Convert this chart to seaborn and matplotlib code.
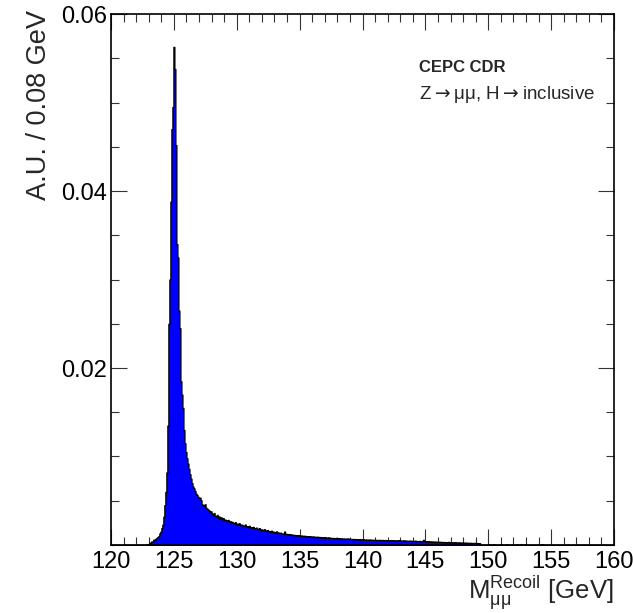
import numpy as np
import pandas as pd
import matplotlib
matplotlib.use("Agg")
import matplotlib.pyplot as plt
from matplotlib.ticker import FixedLocator, MultipleLocator, FixedFormatter
import seaborn as sns

# ---------------- data (bin contents in units of 1e-5, bin width 0.08 GeV) ----------------
x_min, x_max, bin_width = 120.0, 160.0, 0.08
first_filled_bin = 36          # bin starting at 122.88 GeV

# bins 36..99  (122.88 - 128.00 GeV): rising edge, peak and near tail
peak_values = [
    10, 10, 20, 30, 40, 40, 60, 55, 70, 80,
    90, 100, 130, 150, 190, 230, 320, 450, 600, 820,
    1350, 2500, 3000, 3880, 4700, 4950, 5630, 5380, 4520, 3400,
    3250, 2650, 2450, 1850, 1700, 1550, 1300, 1150, 1050, 980,
    920, 860, 800, 750, 700, 660, 640, 610, 580, 565,
    545, 525, 535, 505, 460, 450, 440, 460, 420, 410,
    400, 390, 370, 380,
]

# bins 100..366  (128.00 - 149.36 GeV): radiative tail
tail_values = [
    352, 338, 361, 327, 318, 340, 305, 322, 296, 312,
    290, 303, 281, 287, 279, 268, 283, 262, 270, 251,
    262, 247, 243, 258, 236, 241, 229, 245, 223, 231,
    226, 214, 219, 231, 207, 212, 203, 216, 198, 201,
    193, 204, 187, 190, 196, 178, 183, 190, 172, 176,
    171, 166, 178, 160, 163, 169, 154, 158, 149, 161,
    146, 151, 140, 144, 153, 137, 141, 133, 139, 130,
    128, 125, 152, 121, 126, 118, 123, 115, 120, 113,
    117, 110, 114, 108, 112, 104, 109, 106, 101, 107,
    103, 98, 105, 96, 100, 94, 99, 92, 97, 95,
    91, 96, 89, 93, 87, 94, 86, 90, 84, 88,
    85, 82, 88, 80, 84, 79, 86, 78, 81, 77,
    80, 76, 74, 79, 72, 77, 75, 71, 74, 70,
    73, 69, 72, 68, 71, 74, 66, 70, 67, 65,
    69, 64, 67, 63, 66, 62, 65, 61, 64, 60,
    63, 59, 62, 58, 61, 60, 57, 62, 56, 59,
    58, 55, 60, 54, 57, 53, 58, 56, 52, 57,
    55, 51, 56, 53, 50, 54, 52, 49, 55, 51,
    53, 48, 52, 50, 47, 54, 49, 51, 46, 50,
    48, 52, 45, 49, 47, 44, 50, 46, 48, 43,
    47, 44, 49, 42, 45, 43, 46, 41, 44, 40,
    58, 42, 39, 43, 38, 41, 37, 40, 36, 39,
    37, 35, 38, 34, 36, 33, 37, 32, 35, 31,
    34, 30, 33, 29, 32, 35, 28, 31, 27, 30,
    29, 27, 30, 26, 28, 25, 29, 24, 27, 25,
    26, 23, 27, 22, 25, 24, 21, 25, 22, 23,
    21, 24, 20, 22, 19, 21, 18,
]

# a few isolated tiny bins beyond the end of the tail: (bin index, content)
sparse_bins = [376, 380, 387, 393, 403, 407, 411, 428]
sparse_values = [10, 8, 9, 7, 8, 10, 7, 8]

x_ticks = [120, 125, 130, 135, 140, 145, 150, 155, 160]
y_ticks = [0.02, 0.04, 0.06]
y_tick_labels = ["0.02", "0.04", "0.06"]

# ---------------- assemble histogram ----------------
n_bins = int(round((x_max - x_min) / bin_width))
edges = x_min + bin_width * np.arange(n_bins + 1)
contents = np.zeros(n_bins)
dense = peak_values + tail_values
contents[first_filled_bin:first_filled_bin + len(dense)] = np.array(dense) * 1e-5
contents[sparse_bins] = np.array(sparse_values) * 1e-5
centers = 0.5 * (edges[:-1] + edges[1:])
df = pd.DataFrame({"m": centers, "w": contents})

# ---------------- style ----------------
sns.set_style("white")
plt.rcParams["font.family"] = ["Liberation Sans", "DejaVu Sans"]
plt.rcParams["mathtext.fontset"] = "custom"
plt.rcParams["mathtext.rm"] = "Liberation Sans"
plt.rcParams["mathtext.it"] = "Liberation Sans"

fig = plt.figure(figsize=(6.33, 6.13), dpi=100)
ax = fig.add_axes([0.1754, 0.111, 0.7946, 0.866])

sns.histplot(data=df, x="m", weights="w", bins=[float(e) for e in edges],
             element="step", fill=True, color="#0000ff", alpha=1.0,
             edgecolor="black", linewidth=0.9, ax=ax)

ax.set_xlim(x_min, x_max)
ax.set_ylim(0, 0.06)

ax.xaxis.set_major_locator(FixedLocator(x_ticks))
ax.xaxis.set_minor_locator(MultipleLocator(1))
ax.yaxis.set_major_locator(FixedLocator(y_ticks))
ax.yaxis.set_major_formatter(FixedFormatter(y_tick_labels))
ax.yaxis.set_minor_locator(MultipleLocator(0.005))

ax.tick_params(axis="both", which="both", direction="in",
               top=True, right=True, bottom=True, left=True,
               color="#333333", width=0.8, labelsize=17, labelcolor="black")
ax.tick_params(axis="both", which="major", length=11.5)
ax.tick_params(axis="both", which="minor", length=6)
ax.tick_params(axis="x", which="major", pad=4.5)
ax.tick_params(axis="y", which="major", pad=3)

for s in ax.spines.values():
    s.set_visible(True)
    s.set_color("black")
    s.set_linewidth(1.2)

ax.set_xlabel(r"$\mathrm{M}_{\mathrm{μμ}}^{\mathrm{Recoil}}$ [GeV]", fontsize=18.5,
              loc="right", labelpad=0)
ax.set_ylabel("A.U. / 0.08 GeV", fontsize=19.5, loc="top")
ax.yaxis.set_label_coords(-0.117, 1.008)

ax.text(0.612, 0.891, "CEPC CDR", transform=ax.transAxes, fontsize=12,
        fontweight="bold", ha="left", va="baseline")
ax.text(0.612, 0.841, r"Z$\rightarrow$μμ, H$\rightarrow$inclusive",
        transform=ax.transAxes, fontsize=13.5, ha="left", va="baseline",
        math_fontfamily="dejavusans")

fig.savefig("out.png", dpi=100)
